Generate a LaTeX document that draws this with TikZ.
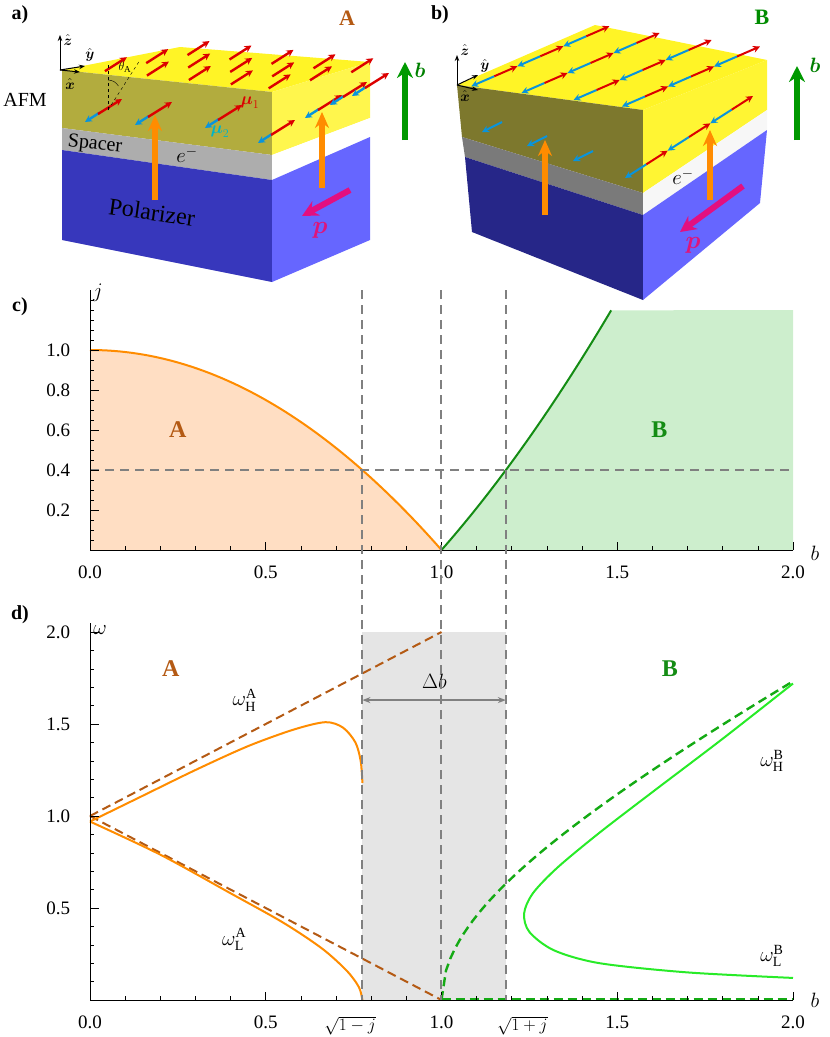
\documentclass[tikz,border=0pt]{standalone}
\usepackage{amsmath}
\usepackage{fontspec}
\setmainfont{Liberation Serif}
\usetikzlibrary{arrows.meta}
\definecolor{oran}{RGB}{255,140,0}
\definecolor{fillA}{RGB}{255,222,195}
\definecolor{dgreen}{RGB}{20,140,20}
\definecolor{fillB}{RGB}{205,238,205}
\definecolor{brownA}{RGB}{180,90,20}
\definecolor{lgreen}{RGB}{40,235,40}
\definecolor{mgreen}{RGB}{20,170,20}
\definecolor{cyanA}{RGB}{0,180,200}
\definecolor{redA}{RGB}{220,0,0}
\definecolor{olA}{RGB}{178,172,62}
\definecolor{olB}{RGB}{125,120,45}
\tikzset{
 lbl/.style={font=\fontsize{20}{24}\selectfont},
 tick/.style={font=\fontsize{19}{22}\selectfont},
 guide/.style={gray,dashed,line width=1.3pt,dash pattern=on 9pt off 6pt},
 redarr/.style={redA,line width=2.4pt,-{Stealth[length=7pt,width=7pt]}},
 cyanarr/.style={cyan!80!blue,line width=2.4pt,-{Stealth[length=7pt,width=7pt]}},
 bigor/.style={oran,line width=6pt,-{Stealth[length=16pt,width=14pt]}},
 magarr/.style={magenta!80!purple,line width=6pt,-{Stealth[length=16pt,width=16pt]}},
 garr/.style={green!60!black,line width=6pt,-{Stealth[length=16pt,width=16pt]}},
 ax/.style={black,line width=1pt},
}
\begin{document}
\begin{tikzpicture}[x=1pt,y=-1pt]
\useasboundingbox (0,0) rectangle (830,1037);
% ---------------- panel a ----------------
\fill[yellow!85!white] (62,70)--(180,47)--(370,62)--(272,92)--cycle;
\fill[olA] (62,70)--(272,92)--(272,155)--(62,128)--cycle;
\fill[black!32] (62,128)--(272,155)--(272,180)--(62,150)--cycle;
\fill[blue!55!gray!95!black] (62,150)--(272,180)--(272,282)--(62,240)--cycle;
\fill[yellow!70!white] (272,92)--(370,62)--(370,118)--(272,155)--cycle;
\fill[white] (272,155)--(370,118)--(370,137)--(272,180)--cycle;
\fill[blue!60!white] (272,180)--(370,137)--(370,240)--(272,282)--cycle;
\foreach \s in {0.12,0.32,0.52,0.72,0.9}{\foreach \t in {0.15,0.5,0.85}{
 \draw[redarr] ({62+\s*210+\t*118},{72+\s*22-\t*23}) -- ++(22,-14);}}
\foreach \px/\py in {85/122,135/125,205/128,258/143,305/118,330/105,352/96}{
 \draw[cyanarr] (\px+14,\py-9) -- (\px,\py);
 \draw[redarr] (\px+13,\py-8) -- ++(24,-15);}
\draw[dashed,thin] (108,110) -- (108,65);
\draw[dashed,thin] (108,110) -- (140,60);
\draw[thin] (108,80) arc[start angle=-90,end angle=-30,radius=12];
\draw[bigor] (155,200) -- (155,115);
\draw[bigor] (322,188) -- (322,112);
\draw[magarr] (350,190) -- (302,216);
\draw[garr] (405,140) -- (405,62);
\draw[-{Stealth[length=6pt]},line width=1pt] (60,70) -- (60,35);
\draw[-{Stealth[length=6pt]},line width=1pt] (60,70) -- (85,66);
\draw[-{Stealth[length=6pt]},line width=1pt] (60,70) -- (80,72);
\node[font=\fontsize{14}{16}\selectfont] (za) at (68,40) {$\hat{\boldsymbol z}$};
\node[font=\fontsize{14}{16}\selectfont] (ya) at (90,55) {$\hat{\boldsymbol y}$};
\node[font=\fontsize{14}{16}\selectfont] (xa) at (70,84) {$\hat{\boldsymbol x}$};
\node[font=\fontsize{13}{15}\selectfont] (th) at (125,67) {$\theta_{\mathrm A}$};
\node[lbl,font=\bfseries\fontsize{20}{24}\selectfont] (la) at (20,15) {a)};
\node[lbl,font=\bfseries\fontsize{22}{24}\selectfont,text=brownA] (LA) at (347,18) {A};
\node[lbl] (afm) at (25,100) {AFM};
\node[lbl,rotate=-6] (sp) at (95,145) {Spacer};
\node[lbl] (ea) at (187,155) {$e^{-}$};
\node[font=\fontsize{24}{26}\selectfont,rotate=-8] (pol) at (152,212) {Polarizer};
\node[font=\fontsize{26}{28}\selectfont,text=magenta!70!purple] (pa) at (320,230) {$\boldsymbol p$};
\node[font=\fontsize{17}{20}\selectfont,text=redA] (m1) at (250,103) {$\boldsymbol\mu_1$};
\node[font=\fontsize{17}{20}\selectfont,text=cyanA] (m2) at (220,132) {$\boldsymbol\mu_2$};
\node[font=\fontsize{22}{24}\selectfont,text=green!50!black] (ba) at (420,70) {$\boldsymbol b$};
% ---------------- panel b ----------------
\fill[yellow!85!white] (457,85)--(595,25)--(767,60)--(643,110)--cycle;
\fill[olB] (457,85)--(643,110)--(643,193)--(462,137)--cycle;
\fill[black!52] (462,137)--(643,193)--(643,215)--(465,157)--cycle;
\fill[blue!45!black!85!white] (465,157)--(643,215)--(643,300)--(472,232)--cycle;
\fill[yellow!80!white] (643,110)--(767,60)--(767,110)--(643,193)--cycle;
\fill[black!3] (643,193)--(767,110)--(767,130)--(643,215)--cycle;
\fill[blue!60!white] (643,215)--(767,130)--(760,203)--(643,300)--cycle;
\foreach \s in {0.05,0.32,0.6,0.86}{\foreach \k in {0,2,4}{
 \draw[cyanarr,line width=2pt] ({462+\s*186+(\k+1)/6*138},{85+\s*25-(\k+1)/6*60}) -- ({462+\s*186+\k/6*138},{85+\s*25-\k/6*60});
 \draw[redarr,line width=2pt] ({462+\s*186+(\k+1)/6*138},{85+\s*25-(\k+1)/6*60}) -- ({462+\s*186+(\k+2)/6*138},{85+\s*25-(\k+2)/6*60});}}
\foreach \k in {0,2,4}{
 \draw[cyanarr,line width=2pt] ({625+(\k+1)/6*128},{178-(\k+1)/6*82}) -- ({625+\k/6*128},{178-\k/6*82});
 \draw[redarr,line width=2pt] ({625+(\k+1)/6*128},{178-(\k+1)/6*82}) -- ({625+(\k+2)/6*128},{178-(\k+2)/6*82});}
\foreach \px/\py in {482/132,527/146,573/161}{\draw[cyanarr,line width=2pt] (\px+20,\py-10) -- (\px,\py);}
\draw[bigor] (545,215) -- (545,140);
\draw[bigor] (710,200) -- (710,130);
\draw[magarr] (743,186) -- (680,232);
\draw[garr] (797,140) -- (797,66);
\draw[-{Stealth[length=6pt]},line width=1pt] (457,85) -- (457,55);
\draw[-{Stealth[length=6pt]},line width=1pt] (457,85) -- (478,75);
\draw[-{Stealth[length=6pt]},line width=1pt] (457,85) -- (478,90);
\node[font=\fontsize{14}{16}\selectfont] (zb) at (465,50) {$\hat{\boldsymbol z}$};
\node[font=\fontsize{14}{16}\selectfont] (yb) at (485,66) {$\hat{\boldsymbol y}$};
\node[font=\fontsize{14}{16}\selectfont] (xb) at (465,96) {$\hat{\boldsymbol x}$};
\node[lbl,font=\bfseries\fontsize{20}{24}\selectfont] (lb) at (440,15) {b)};
\node[lbl,font=\bfseries\fontsize{22}{24}\selectfont,text=green!55!black] (LB) at (762,17) {B};
\node[font=\fontsize{22}{24}\selectfont,text=green!50!black] (bb) at (815,65) {$\boldsymbol b$};
\node[lbl] (eb) at (683,177) {$e^{-}$};
\node[font=\fontsize{26}{28}\selectfont,text=magenta!70!purple] (pb) at (693,245) {$\boldsymbol p$};
% ---------------- panel c ----------------
\begin{scope}[shift={(90,550)},x=351.5pt,y=200pt]
\fill[fillA] (0,0) -- plot[domain=0:1,samples=40] (\x,{1-\x*\x}) -- (1,0) -- cycle;
\fill[fillB] (1,0) -- plot[domain=1:1.4832,samples=40] (\x,{\x*\x-1}) -- (2,1.2) -- (2,0) -- cycle;
\draw[oran,line width=2pt] plot[domain=0:1,samples=60] (\x,{1-\x*\x});
\draw[dgreen,line width=2pt] plot[domain=1:1.4832,samples=40] (\x,{\x*\x-1});
\draw[guide] (0,0.4) -- (2,0.4);
\draw[ax] (0,0) -- (2,0);
\draw[ax] (0,0) -- (0,1.3);
\foreach \y in {0.05,0.1,...,1.26}{\draw[ax,line width=0.6pt] (0,\y) -- ++(0.012,0);}
\foreach \y in {0.2,0.4,...,1.01}{\draw[ax] (0,\y) -- ++(0.025,0);}
\foreach \x in {0.1,0.2,...,2.01}{\draw[ax,line width=0.6pt] (\x,0) -- ++(0,0.02);}
\foreach \x in {0.5,1.0,1.5,2.0}{\draw[ax] (\x,0) -- ++(0,0.04);}
\node[tick] (c02) at (-0.09,0.2) {0.2};
\node[tick] (c04) at (-0.09,0.4) {0.4};
\node[tick] (c06) at (-0.09,0.6) {0.6};
\node[tick] (c08) at (-0.09,0.8) {0.8};
\node[tick] (c10) at (-0.09,1.0) {1.0};
\node[tick] (cx0) at (0,-0.11) {0.0};
\node[tick] (cx1) at (0.5,-0.11) {0.5};
\node[tick] (cx2) at (1,-0.11) {1.0};
\node[tick] (cx3) at (1.5,-0.11) {1.5};
\node[tick] (cx4) at (2,-0.11) {2.0};
\node[font=\bfseries\fontsize{24}{26}\selectfont,text=brownA] (cA) at (0.25,0.6) {A};
\node[font=\bfseries\fontsize{24}{26}\selectfont,text=dgreen] (cB) at (1.62,0.6) {B};
\end{scope}
\node[lbl,font=\bfseries\fontsize{20}{24}\selectfont] (lc) at (20,307) {c)};
\node[lbl] (jl) at (98,293) {$j$};
\node[lbl] (bc) at (815,553) {$b$};
% ---------------- panel d ----------------
\begin{scope}[shift={(90,1000)},x=351.5pt,y=184pt]
\fill[black!10] (0.775,0) rectangle (1.183,2);
\draw[brownA,line width=2pt,dashed,dash pattern=on 9pt off 5pt] (0,1) -- (1,2);
\draw[brownA,line width=2pt,dashed,dash pattern=on 9pt off 5pt] (0,1) -- (1,0);
\draw[oran,line width=2pt] plot[smooth] coordinates {(0,0.97) (0.15,1.11) (0.3,1.25) (0.45,1.38) (0.58,1.47) (0.67,1.51) (0.72,1.48) (0.755,1.40) (0.77,1.3) (0.775,1.18)};
\draw[oran,line width=2pt] plot[smooth] coordinates {(0,0.97) (0.2,0.79) (0.4,0.58) (0.55,0.42) (0.66,0.28) (0.73,0.16) (0.765,0.07) (0.775,0)};
\draw[mgreen,line width=2.4pt,dashed,dash pattern=on 9pt off 5pt] plot[domain=1:2,samples=80] (\x,{sqrt(\x*\x-1)});
\draw[lgreen,line width=2pt] plot[smooth] coordinates {(2.0,0.12) (1.7,0.15) (1.45,0.2) (1.32,0.27) (1.25,0.37) (1.235,0.47) (1.26,0.58) (1.33,0.72) (1.45,0.91) (1.6,1.13) (1.8,1.42) (2.0,1.72)};
\draw[ax] (0,0) -- (2,0);
\draw[mgreen,line width=2.4pt,dashed,dash pattern=on 9pt off 5pt] (1,0.005) -- (2,0.005);
\draw[ax] (0,0) -- (0,2.05);
\foreach \y in {0.1,0.2,...,2.01}{\draw[ax,line width=0.6pt] (0,\y) -- ++(0.012,0);}
\foreach \y in {0.5,1.0,1.5,2.0}{\draw[ax] (0,\y) -- ++(0.025,0);}
\foreach \x in {0.1,0.2,...,2.01}{\draw[ax,line width=0.6pt] (\x,0) -- ++(0,0.022);}
\foreach \x in {0.5,1.0,1.5,2.0}{\draw[ax] (\x,0) -- ++(0,0.044);}
\coordinate (dl) at (0.775,1.63);
\coordinate (dr) at (1.183,1.63);
\draw[gray,line width=1.5pt,{Stealth[length=8pt]}-{Stealth[length=8pt]}] (dl) -- (dr);
\node[lbl] (db) at (0.98,1.73) {$\Delta b$};
\node[tick] (d05) at (-0.09,0.5) {0.5};
\node[tick] (d10) at (-0.09,1.0) {1.0};
\node[tick] (d15) at (-0.09,1.5) {1.5};
\node[tick] (d20) at (-0.09,2.0) {2.0};
\node[tick] (dx0) at (0,-0.12) {0.0};
\node[tick] (dx1) at (0.5,-0.12) {0.5};
\node[tick] (dxa) at (0.74,-0.14) {$\sqrt{1-j}$};
\node[tick] (dx2) at (1,-0.12) {1.0};
\node[tick] (dxb) at (1.23,-0.14) {$\sqrt{1+j}$};
\node[tick] (dx3) at (1.5,-0.12) {1.5};
\node[tick] (dx4) at (2,-0.12) {2.0};
\node[font=\bfseries\fontsize{24}{26}\selectfont,text=brownA] (dA) at (0.23,1.8) {A};
\node[font=\bfseries\fontsize{24}{26}\selectfont,text=dgreen] (dB) at (1.65,1.8) {B};
\node[lbl] (wHA) at (0.44,1.63) {$\omega_{\mathrm H}^{\mathrm A}$};
\node[lbl] (wLA) at (0.41,0.33) {$\omega_{\mathrm L}^{\mathrm A}$};
\node[lbl] (wHB) at (1.94,1.3) {$\omega_{\mathrm H}^{\mathrm B}$};
\node[lbl] (wLB) at (1.94,0.24) {$\omega_{\mathrm L}^{\mathrm B}$};
\end{scope}
\node[lbl,font=\bfseries\fontsize{20}{24}\selectfont] (ld) at (20,615) {d)};
\node[lbl] (wl) at (100,630) {$\omega$};
\node[lbl] (bd) at (815,1000) {$b$};
% guides through both panels
\draw[guide] (362,290) -- (362,1000);
\draw[guide] (441,290) -- (441,1000);
\draw[guide] (506,290) -- (506,1000);
\end{tikzpicture}
\end{document}
